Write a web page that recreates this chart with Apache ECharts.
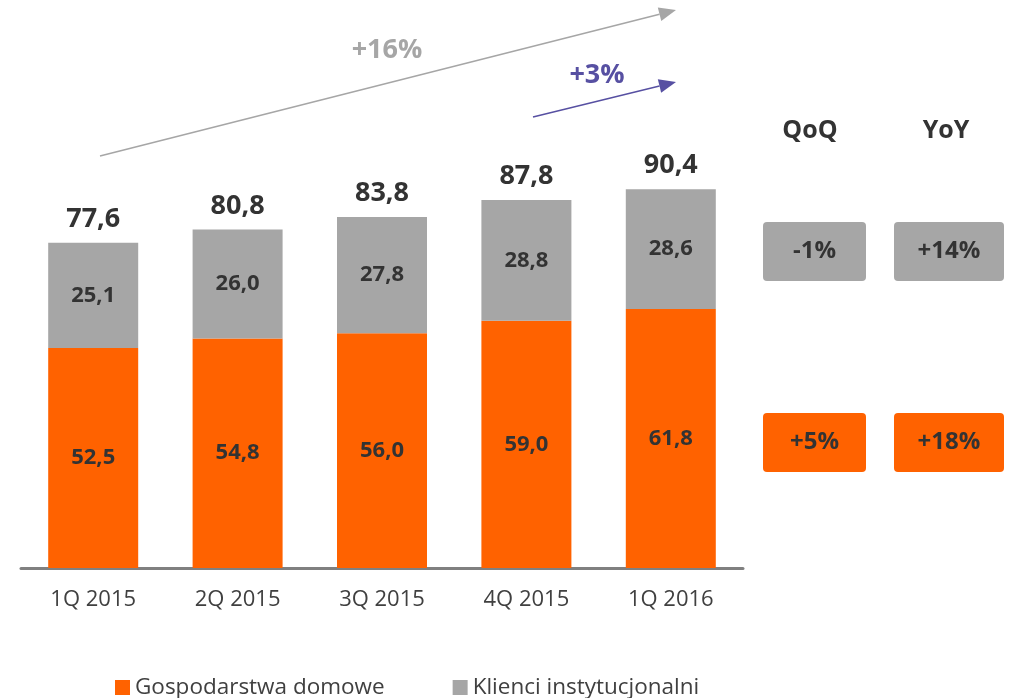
<!DOCTYPE html>
<html>
<head>
<meta charset="utf-8">
<script src="https://cdn.jsdelivr.net/npm/echarts@6/dist/echarts.min.js"></script>
<style>
  html, body { margin: 0; padding: 0; background: #fff; }
  #chart { width: 1013px; height: 698px; }
</style>
</head>
<body>
<div id="chart"></div>
<script>
// Quarterly volumes, split by client segment
const categories = ['1Q 2015', '2Q 2015', '3Q 2015', '4Q 2015', '1Q 2016'];
const households = [52.5, 54.8, 56.0, 59.0, 61.8];
const institutional = [25.1, 26.0, 27.8, 28.8, 28.6];
const seriesNames = ['Gospodarstwa domowe', 'Klienci instytucjonalni'];

// Growth annotations
const growthLong = '+16%';
const growthShort = '+3%';
const changeHeaders = ['QoQ', 'YoY'];
const changeInstitutional = ['-1%', '+14%'];
const changeHouseholds = ['+5%', '+18%'];

const totals = households.map((v, i) => +(v + institutional[i]).toFixed(1));
const fmt = v => v.toFixed(1).replace('.', ',');

const ORANGE = '#ff6200';
const GREY = '#a6a6a6';
const TEXT = '#333333';
const PURPLE = '#5750a2';
const FONT = '"Open Sans", sans-serif';

function arrow(x1, y1, x2, y2, color, width) {
  const ang = Math.atan2(y2 - y1, x2 - x1);
  const len = 17, half = 7;
  const bx = x2 - len * Math.cos(ang), by = y2 - len * Math.sin(ang);
  const px = -Math.sin(ang) * half, py = Math.cos(ang) * half;
  return [
    { type: 'line', shape: { x1, y1, x2: bx, y2: by }, style: { stroke: color, lineWidth: width } },
    { type: 'polygon', shape: { points: [[x2, y2], [bx + px, by + py], [bx - px, by - py]] }, style: { fill: color } }
  ];
}

function box(x, y, w, h, fill, text) {
  return {
    type: 'group',
    children: [
      { type: 'rect', shape: { x, y, width: w, height: h, r: 4 }, style: { fill } },
      { type: 'text', x: x + w / 2, y: y + h / 2,
        style: { text, fill: TEXT, font: 'bold 24px ' + FONT, align: 'center', verticalAlign: 'middle' } }
    ]
  };
}

const chart = echarts.init(document.getElementById('chart'), null, { renderer: 'canvas' });

const graphics = [].concat(
  arrow(100, 156, 676, 10, GREY, 1.5),
  arrow(533, 117, 676, 82, PURPLE, 1.5),
  [
    { type: 'text', x: 387, y: 50, style: { text: growthLong, fill: GREY, font: 'bold 27px ' + FONT, align: 'center', verticalAlign: 'middle' } },
    { type: 'text', x: 597, y: 75, style: { text: growthShort, fill: PURPLE, font: 'bold 27px ' + FONT, align: 'center', verticalAlign: 'middle' } },
    { type: 'text', x: 810, y: 131, style: { text: changeHeaders[0], fill: TEXT, font: 'bold 25px ' + FONT, align: 'center', verticalAlign: 'middle' } },
    { type: 'text', x: 946, y: 131, style: { text: changeHeaders[1], fill: TEXT, font: 'bold 25px ' + FONT, align: 'center', verticalAlign: 'middle' } },
    box(763, 222, 103, 59, GREY, changeInstitutional[0]),
    box(894, 222, 110, 59, GREY, changeInstitutional[1]),
    box(763, 413, 103, 59, ORANGE, changeHouseholds[0]),
    box(894, 413, 110, 59, ORANGE, changeHouseholds[1])
  ]
);

chart.setOption({
  animation: false,
  textStyle: { fontFamily: FONT },
  grid: { left: 21, right: 270, top: 149, bottom: 130 },
  legend: {
    left: 110, top: 671,
    itemWidth: 15, itemHeight: 15, itemGap: 68,
    icon: 'rect',
    textStyle: { fontSize: 22.5, color: '#404040', fontFamily: FONT },
    data: seriesNames
  },
  xAxis: {
    type: 'category',
    data: categories,
    axisLine: { lineStyle: { color: '#808080', width: 3 } },
    axisTick: { show: false },
    axisLabel: { fontSize: 22, color: '#404040', margin: 21 }
  },
  yAxis: { type: 'value', min: 0, max: 100, show: false, splitLine: { show: false } },
  series: [
    {
      name: seriesNames[0], type: 'bar', stack: 'total', data: households,
      barWidth: 90,
      itemStyle: { color: ORANGE },
      label: { show: true, position: 'inside', formatter: p => fmt(p.value), fontSize: 22, fontWeight: 'bold', color: TEXT }
    },
    {
      name: seriesNames[1], type: 'bar', stack: 'total', data: institutional,
      barWidth: 90,
      itemStyle: { color: GREY },
      label: { show: true, position: 'inside', formatter: p => fmt(p.value), fontSize: 22, fontWeight: 'bold', color: TEXT }
    },
    {
      name: 'total', type: 'scatter', data: totals, symbolSize: 0,
      itemStyle: { opacity: 1 },
      label: { show: true, position: 'top', distance: 10, formatter: p => fmt(p.value), fontSize: 27, fontWeight: 'bold', color: TEXT },
      silent: true
    }
  ],
  graphic: graphics
});
</script>
</body>
</html>
